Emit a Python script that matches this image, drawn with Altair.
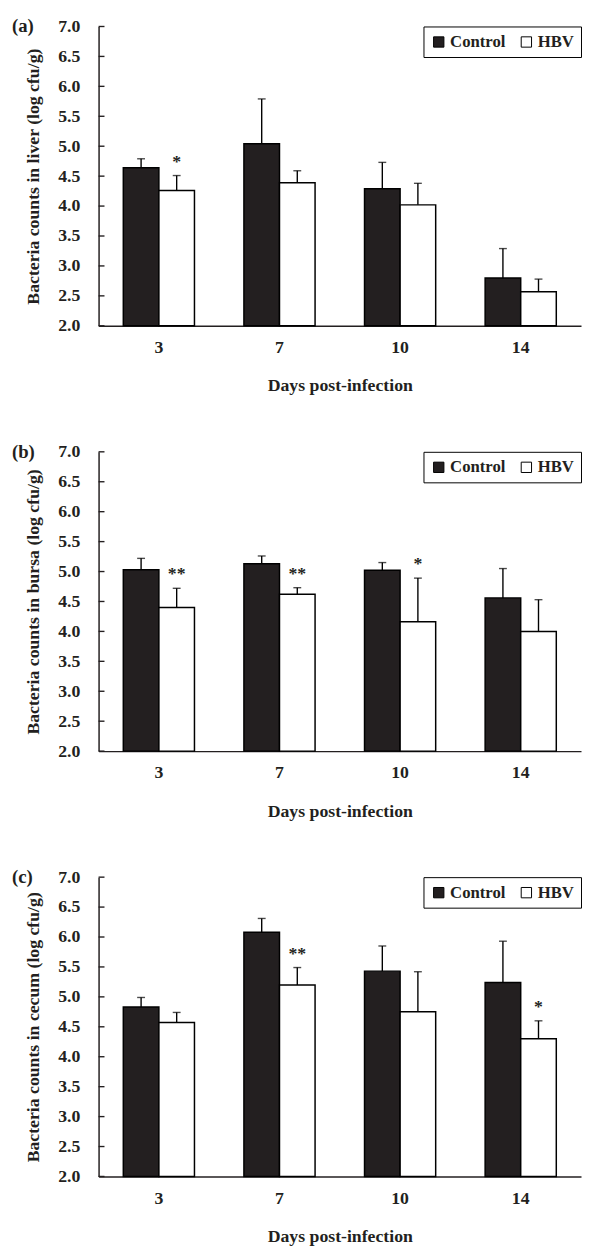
import altair as alt
import pandas as pd

days = ["3", "7", "10", "14"]
groups = ["Control", "HBV"]
letters = ["(a)", "(b)", "(c)"]
organs = ["liver", "bursa", "cecum"]
y_ticks = [2.0, 2.5, 3.0, 3.5, 4.0, 4.5, 5.0, 5.5, 6.0, 6.5, 7.0]

liver_ctrl = [4.64, 5.04, 4.29, 2.80]
liver_ctrl_sd = [0.15, 0.75, 0.44, 0.49]
liver_hbv = [4.26, 4.39, 4.02, 2.57]
liver_hbv_sd = [0.25, 0.20, 0.36, 0.21]
liver_sig = ["*", "", "", ""]

bursa_ctrl = [5.03, 5.13, 5.02, 4.56]
bursa_ctrl_sd = [0.19, 0.13, 0.13, 0.49]
bursa_hbv = [4.40, 4.62, 4.16, 4.00]
bursa_hbv_sd = [0.32, 0.11, 0.73, 0.53]
bursa_sig = ["**", "**", "*", ""]

cecum_ctrl = [4.83, 6.08, 5.43, 5.24]
cecum_ctrl_sd = [0.16, 0.23, 0.42, 0.69]
cecum_hbv = [4.57, 5.20, 4.75, 4.30]
cecum_hbv_sd = [0.17, 0.29, 0.67, 0.30]
cecum_sig = ["", "**", "", "*"]

FONT = "Liberation Serif"
INK = "#231f20"
W, H = 490, 304
FS = 18


def panel(letter, organ, ctrl, ctrl_sd, hbv, hbv_sd, sig):
    rows = []
    for i, d in enumerate(days):
        rows.append(dict(day=d, group="Control", mean=ctrl[i], upper=ctrl[i] + ctrl_sd[i], sig=""))
        rows.append(dict(day=d, group="HBV", mean=hbv[i], upper=hbv[i] + hbv_sd[i], sig=sig[i]))
    df = pd.DataFrame(rows)

    ytitle = f"Bacteria counts in {organ} (log cfu/g)"
    yscale = alt.Scale(domain=[2, 7], zero=False, nice=False)
    yaxis = alt.Axis(
        title=ytitle, values=y_ticks, format=".1f",
        ticks=False, tickSize=0, grid=False, labelPadding=19, titlePadding=16,
        labelOverlap=False, labelFlush=False,
        domainColor=INK, domainWidth=1.5,
        labelFont=FONT, labelFontSize=FS, labelFontWeight="bold", labelColor=INK,
        titleFont=FONT, titleFontSize=FS, titleFontWeight="bold", titleColor=INK,
    )

    def Y(field):
        return alt.Y(field, scale=yscale, axis=yaxis, title=ytitle)

    base = alt.Chart(df).encode(
        x=alt.X(
            "day:N", sort=days,
            scale=alt.Scale(paddingInner=0.41, paddingOuter=0.205),
            axis=alt.Axis(
                title="Days post-infection", labelAngle=0, ticks=False, tickSize=0,
                labelPadding=13, titlePadding=21, domainColor=INK, domainWidth=1.5,
                labelFont=FONT, labelFontSize=FS, labelFontWeight="bold", labelColor=INK,
                titleFont=FONT, titleFontSize=FS, titleFontWeight="bold", titleColor=INK,
            ),
        ),
        xOffset=alt.XOffset("group:N", sort=groups, scale=alt.Scale(paddingInner=0, paddingOuter=0)),
    )

    bars = base.mark_bar(stroke="black", strokeWidth=1.5).encode(
        y=Y("mean:Q"),
        y2=alt.datum(2),
        color=alt.Color(
            "group:N",
            scale=alt.Scale(domain=groups, range=[INK, "white"]),
            legend=alt.Legend(
                title=None, orient="top-right", direction="horizontal", offset=0,
                padding=7, strokeColor="black", fillColor="white", cornerRadius=0,
                symbolType="square", symbolSize=110, symbolStrokeColor="black",
                symbolStrokeWidth=1, labelFont=FONT, labelFontSize=17,
                labelFontWeight="bold", labelColor=INK, columnPadding=12, labelOffset=3,
            ),
        ),
    )

    err = base.mark_rule(color="black", strokeWidth=1.4).encode(y=Y("mean:Q"), y2="upper:Q")
    cap = base.mark_tick(color="black", thickness=1.4, size=8, orient="horizontal").encode(
        y=Y("upper:Q")
    )
    stars = base.mark_text(
        baseline="bottom", dy=-5, font=FONT, fontSize=FS, fontWeight="bold", color=INK
    ).encode(y=Y("upper:Q"), text="sig:N")

    ticks = alt.Chart(pd.DataFrame({"v": y_ticks})).mark_rule(color=INK, strokeWidth=1.4).encode(
        x=alt.value(0), x2=alt.value(6), y=Y("v:Q")
    )
    label = alt.Chart(pd.DataFrame({"t": [letter]})).mark_text(
        align="left", baseline="middle", font=FONT, fontSize=19, fontWeight="bold", color=INK
    ).encode(x=alt.value(-88), y=alt.value(0), text="t:N")

    return alt.layer(bars, err, cap, stars, ticks, label).properties(width=W, height=H)


pa = panel(letters[0], organs[0], liver_ctrl, liver_ctrl_sd, liver_hbv, liver_hbv_sd, liver_sig)
pb = panel(letters[1], organs[1], bursa_ctrl, bursa_ctrl_sd, bursa_hbv, bursa_hbv_sd, bursa_sig)
pc = panel(letters[2], organs[2], cecum_ctrl, cecum_ctrl_sd, cecum_hbv, cecum_hbv_sd, cecum_sig)

chart = alt.vconcat(pa, pb, pc, spacing=49).resolve_scale(
    color="independent"
).resolve_legend(color="independent").configure_view(
    stroke=None
).properties(padding={"left": 4, "top": 0, "right": 0, "bottom": 0}, background="white")

chart.save("out.html", embed_options={"renderer": "svg", "actions": False})
